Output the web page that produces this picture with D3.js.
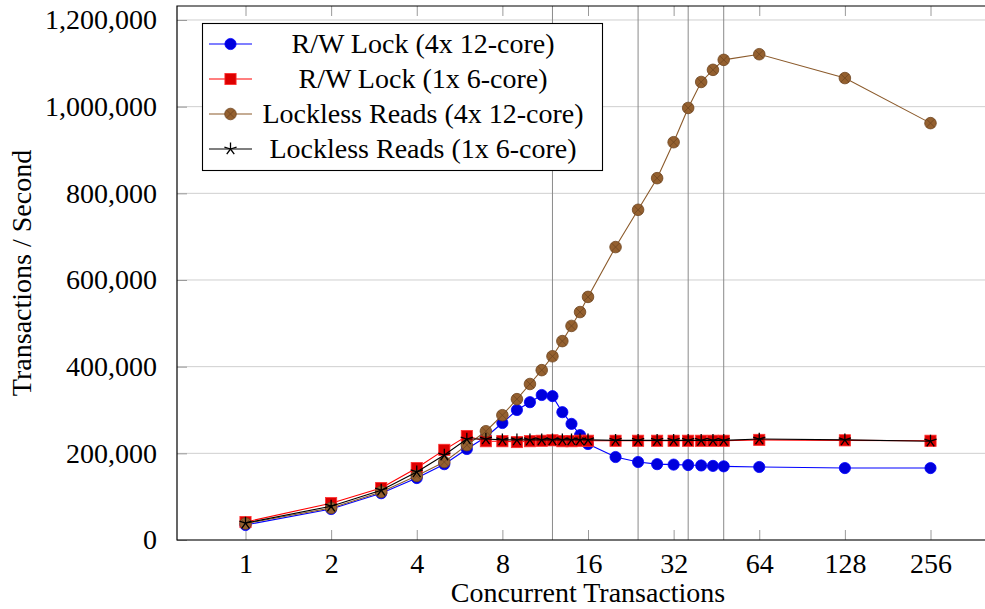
<!DOCTYPE html>
<html>
<head>
<meta charset="utf-8">
<script src="https://cdn.jsdelivr.net/npm/d3@7"></script>
<style>
  html, body { margin: 0; padding: 0; background: #fff; }
  svg text { font-family: "Liberation Serif", "DejaVu Serif", serif; fill: #000; }
</style>
</head>
<body>
<div id="chart"></div>
<script>
// Data
const concurrency = [1, 2, 3, 4, 5, 6, 7, 8, 9, 10, 11, 12, 13, 14, 15, 16, 20, 24, 28, 32, 36, 40, 44, 48, 64, 128, 256];

const rwLock4x12 = [34600, 71500, 108000, 143000, 175000, 210000, 237700, 270000, 300000, 318000, 334600, 332000,
    295000, 268000, 242000, 221500, 191500, 180000, 175000, 174000, 173000, 172000, 171000, 170000, 168500, 166000, 166000];

const rwLock1x6 = [41500, 85000, 120000, 166000, 208000, 240000, 228000, 228000, 226000, 228000, 229000, 230000,
    228000, 228000, 229000, 229000, 229000, 229000, 229000, 229000, 229000, 229000, 229000, 229000, 231000, 230000, 229000];

const lockless4x12 = [38000, 74000, 111000, 148000, 180000, 219000, 251000, 288000, 325000, 360000, 392000, 424000,
    459000, 494000, 526000, 561000, 676000, 762000, 835000, 918000, 997000, 1057000, 1085000, 1108000, 1121000, 1066000, 962000];

const lockless1x6 = [39000, 78000, 115000, 157000, 196000, 233000, 233000, 231000, 231000, 231000, 231000, 231000,
    231000, 231000, 231000, 231000, 230000, 230000, 230000, 230000, 230000, 230000, 230000, 230000, 233000, 231000, 228000];

const seriesNames = ["R/W Lock (4x 12-core)", "R/W Lock (1x 6-core)", "Lockless Reads (4x 12-core)", "Lockless Reads (1x 6-core)"];

const xTickValues = [1, 2, 4, 8, 16, 32, 64, 128, 256];
const extraXTicks = [12, 24, 36, 48];
const yTickValues = [0, 200000, 400000, 600000, 800000, 1000000, 1200000];

const xLabel = "Concurrent Transactions";
const yLabel = "Transactions / Second";

// Layout
const width = 985, height = 609;
const plot = { left: 177, right: 999, top: 6, bottom: 540 };
const fontSize = "28px";

const svg = d3.select("#chart").append("svg")
    .attr("width", width)
    .attr("height", height);

// Scales (log2 x axis, padded like pgfplots)
const x = d3.scaleLog().base(2)
    .domain([Math.pow(2, -0.8), Math.pow(2, 8.8)])
    .range([plot.left, plot.right]);

const y = d3.scaleLinear()
    .domain([0, 1232300])
    .range([plot.bottom, plot.top]);

// Horizontal grid
svg.append("g")
    .selectAll("line")
    .data(yTickValues)
    .enter().append("line")
    .attr("x1", plot.left).attr("x2", plot.right)
    .attr("y1", d => y(d)).attr("y2", d => y(d))
    .style("stroke", "#cfcfcf")
    .style("stroke-width", 1);

// Extra vertical lines
svg.append("g")
    .selectAll("line")
    .data(extraXTicks)
    .enter().append("line")
    .attr("x1", d => x(d)).attr("x2", d => x(d))
    .attr("y1", plot.top).attr("y2", plot.bottom)
    .style("stroke", "#8a8a8a")
    .style("stroke-width", 1);

// Bottom axis
const xAxis = svg.append("g")
    .attr("transform", `translate(0,${plot.bottom})`)
    .call(d3.axisBottom(x).tickValues(xTickValues).tickFormat(d3.format("d")).tickSize(-10).tickPadding(13));
xAxis.select(".domain").remove();
xAxis.selectAll(".tick line").style("stroke", "#9a9a9a");
xAxis.selectAll(".tick text").style("font-size", fontSize).attr("dy", "0.71em");

// Top axis ticks (mirror)
const xTop = svg.append("g")
    .attr("transform", `translate(0,${plot.top})`)
    .call(d3.axisTop(x).tickValues(xTickValues).tickFormat("").tickSize(-10));
xTop.select(".domain").remove();
xTop.selectAll(".tick line").style("stroke", "#9a9a9a");

// Left axis
const yAxis = svg.append("g")
    .attr("transform", `translate(${plot.left},0)`)
    .call(d3.axisLeft(y).tickValues(yTickValues).tickFormat(d3.format(",")).tickSize(-10).tickPadding(20));
yAxis.select(".domain").remove();
yAxis.selectAll(".tick line").style("stroke", "#9a9a9a");
yAxis.selectAll(".tick text").style("font-size", fontSize);

// Frame
svg.append("path")
    .attr("d", `M${plot.right},${plot.top}H${plot.left}V${plot.bottom}H${plot.right}`)
    .style("fill", "none")
    .style("stroke", "#000")
    .style("stroke-width", 1.2);

// Axis titles
svg.append("text")
    .attr("x", (plot.left + plot.right) / 2)
    .attr("y", 602)
    .attr("text-anchor", "middle")
    .style("font-size", fontSize)
    .text(xLabel);

svg.append("text")
    .attr("transform", `translate(31,${(plot.top + plot.bottom) / 2}) rotate(-90)`)
    .attr("text-anchor", "middle")
    .style("font-size", fontSize)
    .text(yLabel);

// Series styles
const series = [
    { name: seriesNames[0], values: rwLock4x12, line: "#0000ff", fill: "#0000dd", mark: "circle" },
    { name: seriesNames[1], values: rwLock1x6, line: "#ff0000", fill: "#dd0000", mark: "square" },
    { name: seriesNames[2], values: lockless4x12, line: "#8b5a2b", fill: "#94602f", mark: "otimes" },
    { name: seriesNames[3], values: lockless1x6, line: "#000000", fill: "#000000", mark: "star" }
];

// Marker drawing
function drawMark(g, s, cx, cy) {
    if (s.mark === "circle") {
        g.append("circle").attr("cx", cx).attr("cy", cy).attr("r", 5.6)
            .style("fill", s.fill).style("stroke", s.line).style("stroke-width", 0.8);
    } else if (s.mark === "square") {
        g.append("rect").attr("x", cx - 5.6).attr("y", cy - 5.6).attr("width", 11.2).attr("height", 11.2)
            .style("fill", s.fill).style("stroke", "#ff3030").style("stroke-width", 0.8);
    } else if (s.mark === "otimes") {
        g.append("circle").attr("cx", cx).attr("cy", cy).attr("r", 5.8)
            .style("fill", s.fill).style("stroke", "#6e4521").style("stroke-width", 0.8);
        const r = 5.8 * Math.SQRT1_2;
        g.append("path")
            .attr("d", `M${cx - r},${cy - r}L${cx + r},${cy + r}M${cx - r},${cy + r}L${cx + r},${cy - r}`)
            .style("stroke", "#6e4521").style("stroke-width", 0.8);
    } else if (s.mark === "star") {
        let d = "";
        for (let k = 0; k < 5; k++) {
            const a = -Math.PI / 2 + k * 2 * Math.PI / 5;
            d += `M${cx},${cy}L${cx + 6.4 * Math.cos(a)},${cy + 6.4 * Math.sin(a)}`;
        }
        g.append("path").attr("d", d).style("stroke", s.line).style("stroke-width", 1.3).style("fill", "none");
    }
}

const line = d3.line()
    .x((d, i) => x(concurrency[i]))
    .y(d => y(d));

series.forEach(s => {
    const g = svg.append("g");
    g.append("path")
        .datum(s.values)
        .attr("d", line)
        .style("fill", "none")
        .style("stroke", s.line)
        .style("stroke-width", 1.1);
    s.values.forEach((v, i) => drawMark(g, s, x(concurrency[i]), y(v)));
});

// Legend
const legend = svg.append("g");
legend.append("rect")
    .attr("x", 202.5).attr("y", 23.5)
    .attr("width", 400).attr("height", 147)
    .style("fill", "#fff")
    .style("stroke", "#000")
    .style("stroke-width", 1.1);

series.forEach((s, i) => {
    const cy = 44 + i * 35;
    const g = legend.append("g");
    g.append("line")
        .attr("x1", 209).attr("x2", 252)
        .attr("y1", cy).attr("y2", cy)
        .style("stroke", s.line)
        .style("stroke-width", 1.1);
    drawMark(g, s, 230.5, cy);
    g.append("text")
        .attr("x", 423)
        .attr("y", cy)
        .attr("dy", "0.33em")
        .attr("text-anchor", "middle")
        .style("font-size", fontSize)
        .text(s.name);
});
</script>
</body>
</html>
